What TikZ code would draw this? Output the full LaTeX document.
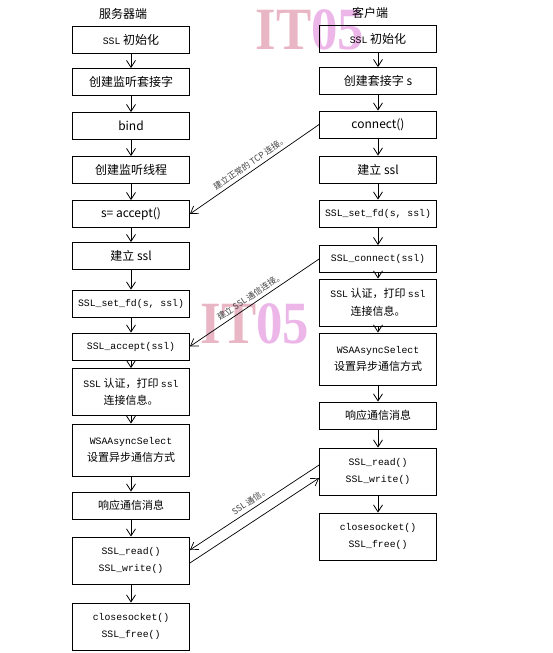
\documentclass[tikz,border=0pt]{standalone}
\usepackage{fontspec}
\setmainfont{Noto Sans CJK SC}
\newfontfamily\code{Liberation Mono}
\newfontfamily\wmfont{Liberation Serif}
\usetikzlibrary{arrows.meta}
\definecolor{wmred}{RGB}{212,110,140}
\definecolor{wmmag}{RGB}{218,110,210}
\newcommand\cd[1]{{\code\fontsize{9.8}{12}\selectfont #1}}
\newcommand\wmtext{\scalebox{0.88}[1]{{\color{wmred}IT}{\color{wmmag}05}}}

\begin{document}
\begin{tikzpicture}[x=1pt,y=-1pt,font=\fontsize{12}{14}\selectfont,
  >={Straight Barb[length=7pt,width=9pt]},
  blk/.style={draw,line width=0.8pt,minimum width=117pt,minimum height=27pt,inner sep=0pt,align=center},
  blk2/.style={blk,minimum height=47pt,font=\fontsize{11}{17.5}\selectfont},
  flow/.style={->,line width=0.8pt},
  link/.style={->,line width=0.7pt},
  lbl/.style={font=\fontsize{8.5}{10}\selectfont,sloped,above,midway,text=black!75},
  wmark/.style={font=\wmfont\bfseries\fontsize{60}{60}\selectfont,opacity=0.5}]
\useasboundingbox (0,0) rectangle (553,653);
% watermarks
\node[wmark] (wm1) at (310,30) {\wmtext};
\node[wmark] (wm2) at (255,324) {\wmtext};
% server side
\node (shead) at (123,14) {服务器端};
\node[blk] (s1) at (131,40) {\cd{SSL} 初始化};
\node[blk] (s2) at (131,82) {创建监听套接字};
\node[blk] (s3) at (131,126) {bind};
\node[blk] (s4) at (131,170) {创建监听线程};
\node[blk] (s5) at (131,214) {s= accept()};
\node[blk] (s6) at (131,256) {建立 ssl};
\node[blk] (s7) at (131,303.5) {\cd{SSL\_set\_fd(s, ssl)}};
\node[blk] (s8) at (131,346.5) {\cd{SSL\_accept(ssl)}};
\node[blk2] (s9) at (131,392) {\cd{SSL} 认证，打印 \cd{ssl}\\连接信息。};
\node[blk2,minimum height=52pt] (s10) at (131,450) {\cd{WSAAsyncSelect}\\设置异步通信方式};
\node[blk,font=\fontsize{11}{14}\selectfont] (s11) at (131,505.5) {响应通信消息};
\node[blk2] (s12) at (131,560.5) {\cd{SSL\_read()}\\\cd{SSL\_write()}};
\node[blk2] (s13) at (131,626.5) {\cd{closesocket()}\\\cd{SSL\_free()}};
% client side
\node (chead) at (370,13) {客户端};
\node[blk] (c1) at (378,38.5) {\cd{SSL} 初始化};
\node[blk] (c2) at (378,81) {创建套接字 s};
\node[blk] (c3) at (378,124.5) {connect()};
\node[blk] (c4) at (378,169.5) {建立 ssl};
\node[blk] (c5) at (378,213.5) {\cd{SSL\_set\_fd(s, ssl)}};
\node[blk] (c6) at (378,259) {\cd{SSL\_connect(ssl)}};
\node[blk2] (c7) at (378,302.5) {\cd{SSL} 认证，打印 \cd{ssl}\\连接信息。};
\node[blk2,minimum height=52pt] (c8) at (378,359) {\cd{WSAAsyncSelect}\\设置异步通信方式};
\node[blk,font=\fontsize{11}{14}\selectfont] (c9) at (378,415.5) {响应通信消息};
\node[blk2] (c10) at (378,471.5) {\cd{SSL\_read()}\\\cd{SSL\_write()}};
\node[blk2] (c11) at (378,536.5) {\cd{closesocket()}\\\cd{SSL\_free()}};
% flow arrows
\foreach \i [remember=\i as \j (initially 1)] in {2,...,13}
  \draw[flow] (s\j) -- (s\i);
\foreach \i [remember=\i as \j (initially 1)] in {2,...,11}
  \draw[flow] (c\j) -- (c\i);
% connections
\draw[link] (c3.west) -- node[lbl] {建立正常的 TCP 连接。} (s5.east);
\draw[link] (c6.west) -- node[lbl] {建立 SSL 通信连接。} (s8.east);
\draw[link] ([yshift=6.5pt]c10.west) -- node[lbl] {SSL 通信。} ([yshift=10.5pt]s12.east);
\draw[link] ([yshift=-2.5pt]s12.east) -- ([yshift=-6.5pt]c10.west);
\end{tikzpicture}
\end{document}
